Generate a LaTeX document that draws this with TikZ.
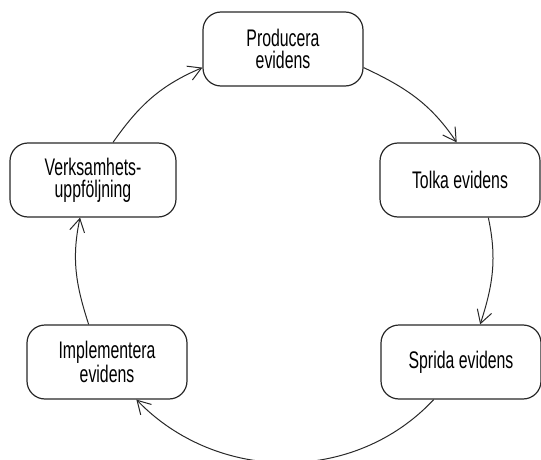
\documentclass[tikz,border=0pt]{standalone}
\usepackage{fontspec}
\setmainfont[FakeStretch=0.66]{Liberation Sans}
\definecolor{EdgeGray}{RGB}{40, 40, 40}
\usetikzlibrary{arrows.meta}

\begin{document}
\begin{tikzpicture}[x=1pt, y=1pt,
  every node/.style={rectangle, rounded corners=18pt, draw=EdgeGray, line width=1.2pt, minimum width=160pt, minimum height=74pt, align=center, text=black, font=\fontsize{24}{22}\selectfont},
  cycle/.style={-{Straight Barb[length=13pt, width=15pt]}, line width=1pt, EdgeGray}]
\useasboundingbox (0,0) rectangle (541,-460);
\node (prod) at (283,-49) {Producera\\evidens};
\node (tolka) at (460,-180) {Tolka evidens};
\node (sprida) at (461,-362) {Sprida evidens};
\node (impl) at (107,-362) {Implementera\\evidens};
\node (verk) at (93,-180) [minimum width=166pt] {Verksamhets-\\uppföljning};
\draw[cycle] (prod.-13) to[out=-25, in=124] (tolka.95);
\draw[cycle] (tolka.-53) to[out=-78, in=72] (sprida.63);
\draw[cycle] (sprida.-126) to[out=-133, in=-46] (impl.-52);
\draw[cycle] (impl.116) to[out=108, in=-102] (verk.-109);
\draw[cycle] (verk.62) to[out=55, in=-157] (prod.193);
\end{tikzpicture}
\end{document}
